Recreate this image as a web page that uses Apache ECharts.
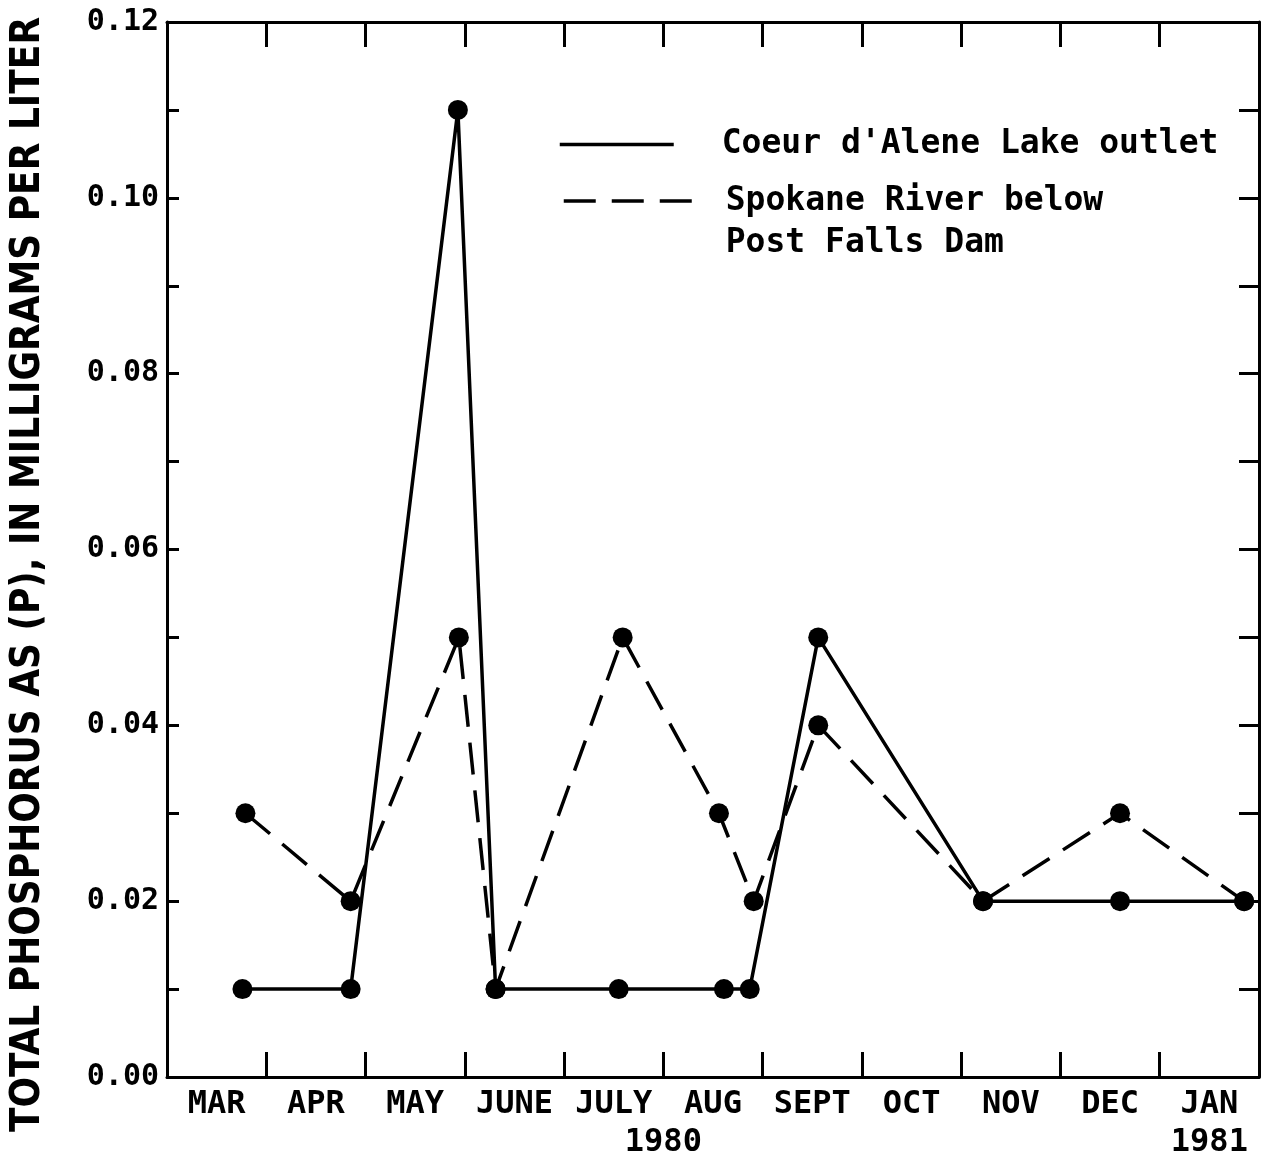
<!DOCTYPE html>
<html><head><meta charset="utf-8">
<script src="https://cdn.jsdelivr.net/npm/echarts@6/dist/echarts.min.js"></script>
<style>html,body{margin:0;padding:0;background:#fff}#c{width:1261px;height:1157px}</style>
</head><body><div id="c"></div>
<script>
// Months (x positions are in months after 1 March 1980)
const months = ['MAR','APR','MAY','JUNE','JULY','AUG','SEPT','OCT','NOV','DEC','JAN'];
const years = ['1980','1981'];
const yearAt = [5.0, 10.5];

// Coeur d'Alene Lake outlet (solid)
const lakeX = [0.76, 1.85, 2.93, 3.31, 4.55, 5.61, 5.87, 6.56, 8.22, 9.60, 10.85];
const lakeP = [0.01, 0.01, 0.11, 0.01, 0.01, 0.01, 0.01, 0.05, 0.02, 0.02, 0.02];

// Spokane River below Post Falls Dam (dashed)
const riverX = [0.79, 1.85, 2.94, 3.31, 4.59, 5.56, 5.91, 6.56, 8.22, 9.60, 10.85];
const riverP = [0.03, 0.02, 0.05, 0.01, 0.05, 0.03, 0.02, 0.04, 0.02, 0.03, 0.02];

const lakeName = "Coeur d'Alene Lake outlet";
const riverName = 'Spokane River below Post Falls Dam';

const MONO = "'DejaVu Sans Mono', monospace";
const black = '#000';
const frameLine = {show:true, onZero:false, lineStyle:{color:black, width:3}};

const chart = echarts.init(document.getElementById('c'), null, {renderer:'canvas'});

const valueX = (pos) => ({
  type:'value', min:0, max:11, interval:1, position:pos, gridIndex:0,
  axisLine: frameLine,
  axisTick:{show:true, inside:true, length:25, lineStyle:{color:black, width:3}},
  axisLabel:{show:false}, splitLine:{show:false}
});

const option = {
  backgroundColor:'#fff',
  animation:false,
  grid:{left:167, right:2, top:22, bottom:80},
  xAxis:[
    valueX('bottom'),
    valueX('top'),
    {type:'category', data:months, position:'bottom', boundaryGap:true, gridIndex:0,
     axisLine:{show:false, onZero:false}, axisTick:{show:false}, splitLine:{show:false},
     axisLabel:{interval:0, color:black, fontFamily:MONO, fontWeight:'bold', fontSize:32, margin:12}}
  ],
  yAxis:[
    {type:'value', min:0, max:0.12, interval:0.01, position:'left',
     axisLine: frameLine,
     axisTick:{show:true, inside:true, length:12, lineStyle:{color:black, width:3}},
     splitLine:{show:false},
     axisLabel:{color:black, fontFamily:MONO, fontWeight:'bold', fontSize:30, margin:8,
       formatter:(v)=>{const k=Math.round(v*100); return k%2===0 ? v.toFixed(2) : '';}},
     name:'TOTAL PHOSPHORUS AS (P), IN MILLIGRAMS PER LITER',
     nameLocation:'middle', nameGap:118,
     nameTextStyle:{color:black, fontFamily:"'DejaVu Sans Condensed','Liberation Sans Narrow',sans-serif", fontWeight:'bold', fontSize:40, padding:[0,50,0,0]}
    },
    {type:'value', min:0, max:0.12, interval:0.01, position:'right',
     axisLine: frameLine,
     axisTick:{show:true, inside:true, length:20, lineStyle:{color:black, width:3}},
     axisLabel:{show:false}, splitLine:{show:false}}
  ],
  legend:[
    {data:[lakeName], left:553, top:123, orient:'vertical', selectedMode:false,
     itemWidth:114, itemHeight:20, itemStyle:{opacity:0},
     lineStyle:{color:black, width:3.5},
     textStyle:{color:black, fontFamily:MONO, fontWeight:'bold', fontSize:33, padding:[0,0,0,43]}},
    {data:[riverName], left:557, top:133, orient:'vertical', selectedMode:false,
     itemWidth:135, itemHeight:20, itemStyle:{opacity:0},
     lineStyle:{color:black, width:3.5},
     formatter:()=> '\nSpokane River below\nPost Falls Dam',
     textStyle:{color:black, fontFamily:MONO, fontWeight:'bold', fontSize:33, lineHeight:42, padding:[0,0,0,22]}}
  ],
  series:[
    {type:'line', name:lakeName, xAxisIndex:0, yAxisIndex:0,
     data: lakeX.map((x,i)=>[x, lakeP[i]]),
     symbol:'circle', symbolSize:20, itemStyle:{color:black},
     lineStyle:{color:black, width:3.5}, z:3},
    {type:'line', name:riverName, xAxisIndex:0, yAxisIndex:0,
     data: riverX.map((x,i)=>[x, riverP[i]]),
     symbol:'circle', symbolSize:20, itemStyle:{color:black},
     lineStyle:{color:black, width:3.5, type:[32,16]}, z:2}
  ]
};
chart.setOption(option);

const yPix = chart.getHeight() - 80 + 66;
chart.setOption({
  graphic: years.map((t,i)=>({
    type:'text', silent:true,
    x: chart.convertToPixel({xAxisIndex:0}, yearAt[i]), y: yPix,
    style:{text:t, fill:black, font:"bold 32px 'DejaVu Sans Mono', monospace", textAlign:'center', textVerticalAlign:'middle'}
  }))
});
</script></body></html>
